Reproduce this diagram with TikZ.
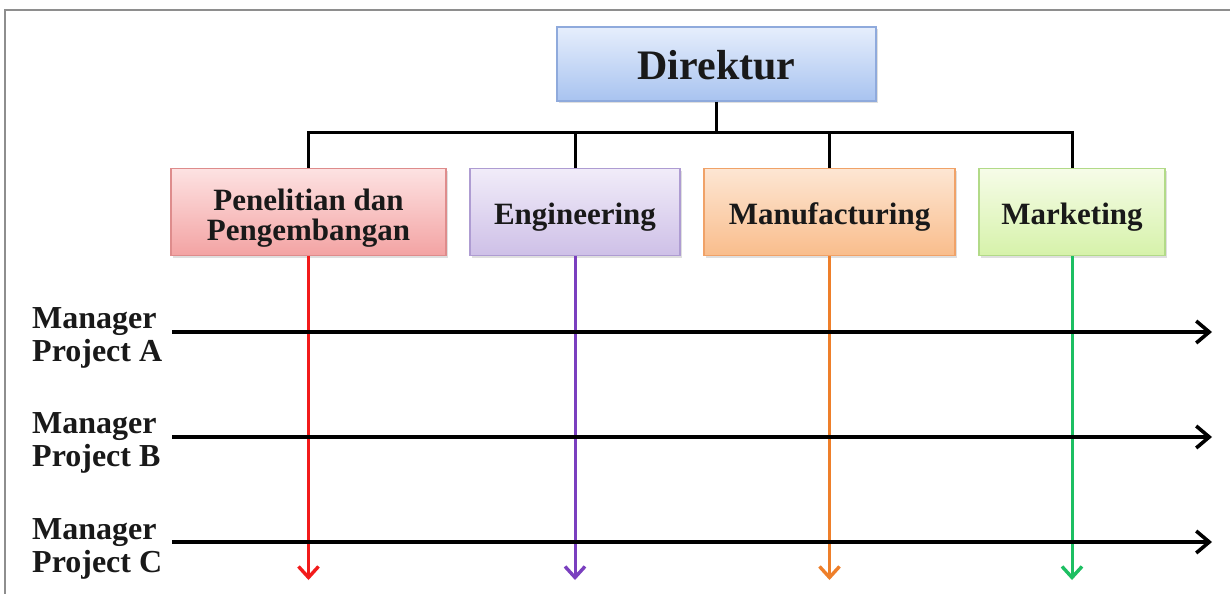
\documentclass[tikz,border=0pt]{standalone}
\usepackage{fontspec}
\setmainfont{Liberation Serif}
\usetikzlibrary{arrows.meta,shadows}
\definecolor{framegray}{HTML}{8E8E8E}
\definecolor{cred}{HTML}{F21B1B}
\definecolor{cpurple}{HTML}{7A3FBF}
\definecolor{corange}{HTML}{EE7F2A}
\definecolor{cgreen}{HTML}{1DBF62}
\definecolor{dirTop}{HTML}{E6EEFC}\definecolor{dirBot}{HTML}{A8C3F0}\definecolor{dirBd}{HTML}{8FAADC}
\definecolor{penTop}{HTML}{FDE2E2}\definecolor{penBot}{HTML}{F3A3A3}\definecolor{penBd}{HTML}{DE8C8C}
\definecolor{engTop}{HTML}{F1ECF9}\definecolor{engBot}{HTML}{CEC0E7}\definecolor{engBd}{HTML}{AE9CD2}
\definecolor{manTop}{HTML}{FDE6D3}\definecolor{manBot}{HTML}{F9BD8C}\definecolor{manBd}{HTML}{F0A268}
\definecolor{marTop}{HTML}{F6FCE8}\definecolor{marBot}{HTML}{D6F2AA}\definecolor{marBd}{HTML}{B2DA88}
\newcommand{\dn}[2]{\raisebox{-#1}[\height][\depth]{#2}}
\tikzset{
  box/.style={draw, line width=1.3pt, rectangle, minimum height=87pt, align=center,
    font=\fontsize{31}{30}\selectfont\bfseries, text=black!90,
    drop shadow={opacity=0.25, shadow xshift=1.5pt, shadow yshift=-2pt}},
  conn/.style={line width=3pt, black},
  vline/.style={line width=3pt, -{Straight Barb[length=11pt,width=20pt,line width=3.4pt]}},
  hline/.style={line width=3.4pt, black, -{Straight Barb[length=13pt,width=22pt,line width=3.6pt]}},
  mlabel/.style={anchor=west, align=left, inner sep=0pt,
    font=\fontsize{32}{33}\selectfont\bfseries, text=black!90},
}
\begin{document}
\begin{tikzpicture}[x=1pt,y=-1pt]
\useasboundingbox (0,0) rectangle (1230,594);
\fill[white] (0,0) rectangle (1230,594);
\draw[framegray, line width=2pt] (1230,10) -- (5,10) -- (5,594);

\node[box, minimum width=319pt, minimum height=74pt, draw=dirBd,
  top color=dirTop, bottom color=dirBot,
  font=\fontsize{42}{44}\selectfont\bfseries] (dir) at (716.5,64) {\dn{1pt}{Direktur}};

\node[box, minimum width=275pt, draw=penBd, top color=penTop, bottom color=penBot] (pen) at (308.5,212) {\dn{6pt}{\parbox{260pt}{\centering Penelitian dan\\Pengembangan}}};
\node[box, minimum width=210pt, draw=engBd, top color=engTop, bottom color=engBot] (eng) at (575,212) {\dn{5pt}{Engineering}};
\node[box, minimum width=251pt, draw=manBd, top color=manTop, bottom color=manBot] (man) at (829.5,212) {\dn{5pt}{Manufacturing}};
\node[box, minimum width=186pt, draw=marBd, top color=marTop, bottom color=marBot] (mar) at (1072,212) {\dn{5pt}{Marketing}};

\coordinate (bar) at (0,132);
\coordinate (tip) at (0,580);

\draw[conn] (dir.south) -- (dir.south |- bar);
\draw[conn] (pen.north) -- (pen.north |- bar) -- (mar.north |- bar) -- (mar.north);
\draw[conn] (eng.north) -- (eng.north |- bar);
\draw[conn] (man.north) -- (man.north |- bar);

\draw[vline, cred] (pen.south) -- (pen.south |- tip);
\draw[vline, cpurple] (eng.south) -- (eng.south |- tip);
\draw[vline, corange] (man.south) -- (man.south |- tip);
\draw[vline, cgreen] (mar.south) -- (mar.south |- tip);

\node[mlabel] (ma) at (32,338) {Manager\\Project A};
\node[mlabel] (mb) at (32,443) {Manager\\Project B};
\node[mlabel] (mc) at (32,549) {Manager\\Project C};

\coordinate (aS) at (172,332); \coordinate (aE) at (1212,332);
\coordinate (bS) at (172,437); \coordinate (bE) at (1212,437);
\coordinate (cS) at (172,542); \coordinate (cE) at (1212,542);
\draw[hline] (aS) -- (aE);
\draw[hline] (bS) -- (bE);
\draw[hline] (cS) -- (cE);
\end{tikzpicture}
\end{document}
